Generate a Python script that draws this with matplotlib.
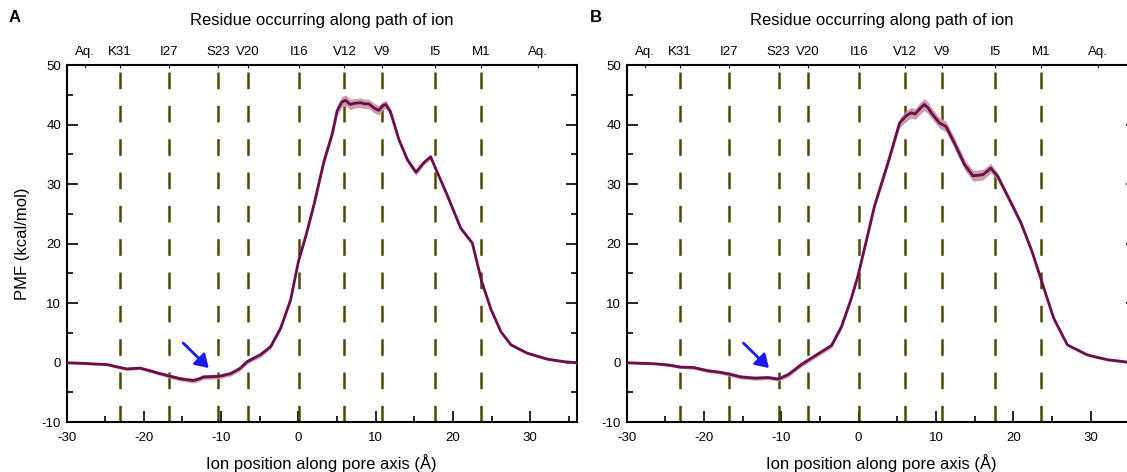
import matplotlib
matplotlib.use("Agg")
import matplotlib.pyplot as plt
from matplotlib.ticker import MultipleLocator

plt.rcParams["font.family"] = ["Liberation Sans", "DejaVu Sans"]
plt.rcParams["axes.unicode_minus"] = False
plt.rcParams["lines.scale_dashes"] = False

# residues lining the pore, with their position on the pore axis (Å)
residue_labels = ["K31", "I27", "S23", "V20", "I16", "V12", "V9", "I5", "M1"]
residue_pos = [-23.1, -16.8, -10.35, -6.55, 0.1, 5.95, 10.85, 17.65, 23.6]
aqueous_pos = [-27.6, 31.0]

# PMF profile, panel A
x_a = [-30, -28, -26.5, -24.8, -23.1, -22.2, -20.5, -19.2, -18, -16.8,
       -15.3, -13.6, -12.8, -12.3, -10.3, -8.8, -7.6, -6.6, -4.9, -3.6,
       -2.3, -1.0, 0.0, 1.0, 2.0, 3.3, 4.4, 5.0, 5.6, 6.1,
       6.7, 7.3, 8.0, 8.6, 9.1, 9.8, 10.4, 10.9, 11.3, 11.9,
       13.0, 14.1, 15.2, 16.2, 17.1, 18.0, 19.3, 21.0, 22.5, 23.7,
       24.9, 26.2, 27.5, 29.6, 32.2, 34.5, 36.0]
pmf_a = [0.0, -0.1, -0.2, -0.3, -0.8, -1.05, -0.9, -1.35, -1.8, -2.2,
         -2.7, -3.0, -2.7, -2.4, -2.3, -1.85, -1.0, 0.2, 1.35, 2.7,
         5.8, 10.6, 17.0, 21.5, 26.5, 33.8, 38.6, 42.3, 43.8, 44.1,
         43.4, 43.6, 43.7, 43.5, 43.5, 42.8, 42.4, 43.2, 43.4, 42.2,
         37.5, 34.1, 32.0, 33.6, 34.6, 31.9, 28.0, 22.6, 20.1, 13.7,
         9.0, 5.2, 3.0, 1.6, 0.6, 0.15, 0.0]
err_a = [0.2, 0.2, 0.2, 0.2, 0.25, 0.25, 0.25, 0.3, 0.3, 0.35,
         0.35, 0.4, 0.4, 0.4, 0.4, 0.4, 0.4, 0.4, 0.4, 0.4,
         0.4, 0.4, 0.4, 0.5, 0.5, 0.6, 0.7, 0.8, 0.9, 0.9,
         0.9, 0.8, 0.8, 0.8, 0.8, 0.8, 0.8, 0.7, 0.7, 0.6,
         0.5, 0.5, 0.5, 0.4, 0.4, 0.3, 0.3, 0.3, 0.3, 0.3,
         0.25, 0.25, 0.2, 0.2, 0.2, 0.2, 0.2]

# PMF profile, panel B
x_b = [-30, -28, -26.4, -24.5, -23.1, -21.4, -19.5, -18, -16.8, -15.2,
       -13.4, -11.7, -10.4, -9.1, -7.4, -5.7, -3.5, -2.2, -1.0, -0.1,
       1.0, 2.05, 3.8, 5.3, 6.15, 6.8, 7.3, 8.0, 8.5, 9.0,
       9.4, 10.45, 11.3, 12.4, 13.7, 14.8, 16.1, 17.1, 18.0, 19.3,
       21.0, 22.4, 23.6, 24.9, 25.3, 27.0, 29.6, 32.2, 34.8, 36.0]
pmf_b = [0.0, -0.1, -0.17, -0.4, -0.73, -0.8, -1.35, -1.6, -1.9, -2.4,
         -2.6, -2.5, -2.75, -2.0, -0.3, 1.1, 2.9, 6.1, 10.6, 14.5,
         20.5, 26.3, 33.6, 40.3, 41.5, 42.0, 41.8, 42.8, 43.4, 42.8,
         42.0, 40.3, 39.7, 36.9, 33.3, 31.4, 31.6, 32.7, 31.3, 27.95,
         23.5, 18.8, 14.0, 8.8, 7.3, 3.0, 1.3, 0.5, 0.1, 0.0]
err_b = [0.2, 0.2, 0.2, 0.25, 0.25, 0.3, 0.3, 0.3, 0.35, 0.35,
         0.35, 0.35, 0.35, 0.4, 0.4, 0.4, 0.4, 0.4, 0.4, 0.4,
         0.45, 0.5, 0.6, 0.8, 0.9, 0.9, 0.9, 1.0, 1.0, 1.0,
         0.9, 0.9, 0.9, 0.9, 0.9, 0.9, 0.9, 0.8, 0.6, 0.5,
         0.5, 0.5, 0.4, 0.3, 0.3, 0.25, 0.2, 0.2, 0.2, 0.2]

LINE_COLOR = "#6a0f4c"
BAND_COLOR = "#c9a0a8"
RES_COLOR = "#4d4a06"

W, H = 1127, 472


def px_box(left, top, right, bottom):
    return [left / W, 1 - bottom / H, (right - left) / W, (bottom - top) / H]


def draw_panel(fig, box, x, pmf, err, ylabel=True):
    ax = fig.add_axes(box)
    lo = [p - e for p, e in zip(pmf, err)]
    hi = [p + e for p, e in zip(pmf, err)]
    ax.fill_between(x, lo, hi, color=BAND_COLOR, lw=0, zorder=3)
    ax.plot(x, pmf, color=LINE_COLOR, lw=2.0, zorder=4)

    for xr in residue_pos:
        ax.plot([xr, xr], [-10, 50], color=RES_COLOR, lw=1.8,
                linestyle=(0, (12, 12)), zorder=2)

    ax.annotate("", xy=(-11.6, -0.9), xytext=(-14.9, 3.3),
                arrowprops=dict(arrowstyle="-|>,head_length=0.55,head_width=0.35",
                                color="#1a1aff", lw=2.0, mutation_scale=14,
                                shrinkA=0, shrinkB=0),
                zorder=5)

    ax.set_xlim(-30, 36)
    ax.set_ylim(-10, 50)
    ax.xaxis.set_major_locator(MultipleLocator(10))
    ax.xaxis.set_minor_locator(MultipleLocator(5))
    ax.yaxis.set_major_locator(MultipleLocator(10))
    ax.yaxis.set_minor_locator(MultipleLocator(5))
    ax.tick_params(which="both", direction="in", top=False, right=True,
                   labelsize=9.5, width=1.2)
    ax.tick_params(axis="x", pad=7)
    ax.tick_params(axis="y", pad=4)
    ax.tick_params(which="major", length=8)
    ax.tick_params(which="minor", length=4.5)
    for sp in ax.spines.values():
        sp.set_linewidth(1.5)

    ax.set_xlabel("Ion position along pore axis (Å)", fontsize=12, labelpad=7)
    if ylabel:
        ax.set_ylabel("PMF (kcal/mol)", fontsize=12)
        ax.yaxis.set_label_coords(-0.071, 0.5)

    # residue names along the top of the panel
    top = ax.twiny()
    top.set_xlim(ax.get_xlim())
    top.set_xticks([aqueous_pos[0]] + residue_pos + [aqueous_pos[1]])
    top.set_xticklabels(["Aq."] + residue_labels + ["Aq."])
    top.tick_params(axis="x", direction="in", length=2.5, width=0.8,
                    labelsize=9.5, pad=5)
    for sp in top.spines.values():
        sp.set_visible(False)

    cx = box[0] + box[2] / 2
    fig.text(cx, 1 - 20 / H, "Residue occurring along path of ion",
             ha="center", va="center", fontsize=12)
    return ax


fig = plt.figure(figsize=(W / 100, H / 100), dpi=100)

box_a = px_box(66.5, 65.2, 576.7, 422.2)
box_b = px_box(626.7, 65.2, 1136.9, 422.2)
draw_panel(fig, box_a, x_a, pmf_a, err_a, ylabel=True)
draw_panel(fig, box_b, x_b, pmf_b, err_b, ylabel=False)

fig.text(9 / W, 1 - 18 / H, "A", ha="left", va="center", fontsize=12,
         fontweight="bold")
fig.text(590 / W, 1 - 18 / H, "B", ha="left", va="center", fontsize=12,
         fontweight="bold")

fig.savefig("out.png", dpi=100)
